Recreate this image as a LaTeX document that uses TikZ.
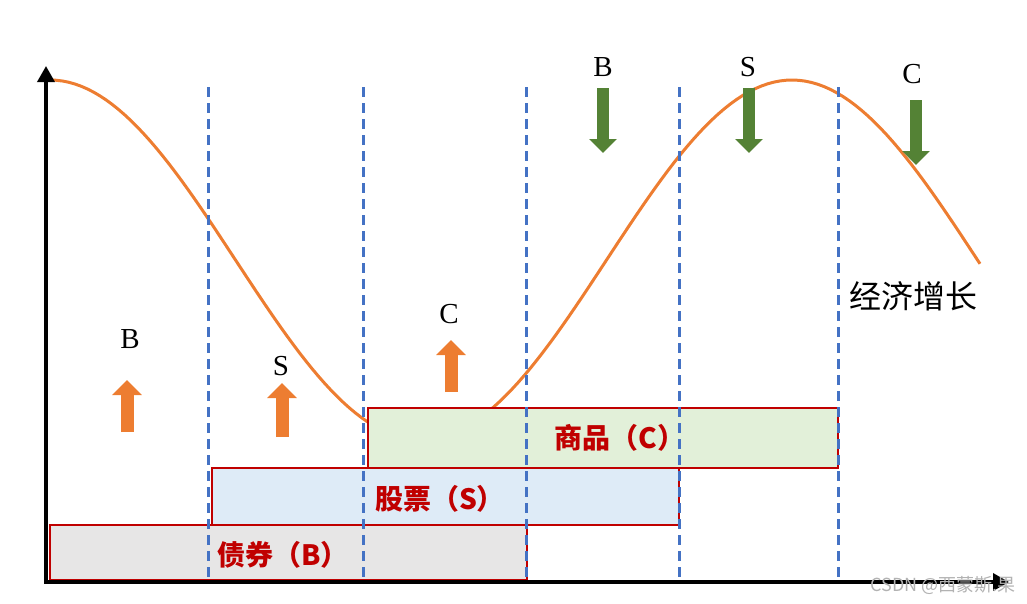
\documentclass[tikz,border=0pt]{standalone}
\usepackage{fontspec}
\setmainfont{Liberation Serif}
\newfontfamily\cjk{Noto Sans CJK SC}
\usepackage{tikz}
\usetikzlibrary{
  arrows.meta,
  positioning
}
\definecolor{CurveOrange}{RGB}{237,125,49}
\definecolor{PhaseBlue}{RGB}{68,114,196}
\definecolor{FallGreen}{RGB}{84,130,53}
\definecolor{AssetRed}{RGB}{192,0,0}
\definecolor{BondGray}{RGB}{231,230,230}
\definecolor{StockBlue}{RGB}{222,235,247}
\definecolor{GoodsGreen}{RGB}{226,240,217}
\tikzset{
  assetbox/.style={draw=AssetRed,line width=2pt,anchor=south west,inner sep=0pt},
  assetlabel/.style={text=AssetRed,font=\cjk\bfseries\fontsize{28}{28}\selectfont,inner sep=0pt},
  phaselabel/.style={font=\fontsize{29}{29}\selectfont,inner sep=0pt},
  phaseline/.style={draw=PhaseBlue,line width=3pt,dash pattern=on 10pt off 6pt},
  growthcurve/.style={draw=CurveOrange,line width=3pt,line join=round},
  axisline/.style={-{Triangle[width=17pt,length=16pt]},line width=3.5pt,draw=black},
  risearrow/.style={-{Triangle[width=29pt,length=15pt]},line width=13pt,draw=CurveOrange},
  fallarrow/.style={-{Triangle[width=27pt,length=14pt]},line width=12pt,draw=FallGreen}
}
\begin{document}
\begin{tikzpicture}[x=1pt,y=-1pt]
\useasboundingbox (0,0) rectangle (1027,603);
\draw[growthcurve] plot[domain=50:980,samples=150] (\x,{260-180*cos((\x-50)/742*360)});
\node[assetbox,fill=BondGray,minimum width=477pt,minimum height=55pt] (bond) at (49,581) {};
\node[assetbox,fill=StockBlue,minimum width=467pt,minimum height=57pt] (stock) at (211,526) {};
\node[assetbox,fill=GoodsGreen,minimum width=470pt,minimum height=60pt] (goods) at (367,469) {};
\node[assetlabel] (bondtxt) at (283,555) {债券（B）};
\node[assetlabel] (stocktxt) at (440,499) {股票（S）};
\node[assetlabel] (goodstxt) at (620,438) {商品（C）};
\foreach \x [count=\i] in {208,363,526,679,838}{
  \coordinate (t\i) at (\x,87);
  \coordinate (b\i) at (\x,582);
  \draw[phaseline] (t\i) -- (b\i);
}
\coordinate (O) at (46,582);
\coordinate (ytop) at (46,66);
\coordinate (xend) at (1009,582);
\draw[axisline] ([yshift=-1.75pt]O) -- (ytop);
\draw[axisline] ([xshift=-1.75pt]O) -- (xend);
\node[phaselabel] (lb1) at (130,339) {B};
\node[phaselabel] (ls1) at (281,366) {S};
\node[phaselabel] (lc1) at (449,314) {C};
\node[phaselabel] (lb2) at (603,67) {B};
\node[phaselabel] (ls2) at (748,67) {S};
\node[phaselabel] (lc2) at (912,74) {C};
\draw[risearrow] (127,432) -- (127,380);
\draw[risearrow] (282,437) -- (282,383);
\draw[risearrow] (451,392) -- (451,340);
\draw[fallarrow] (603,88) -- (603,153);
\draw[fallarrow] (749,88) -- (749,153);
\draw[fallarrow] (916,100) -- (916,165);
\node[font=\cjk\fontsize{32}{32}\selectfont,inner sep=0pt] (growth) at (913,296) {经济增长};
\node[font=\cjk\fontsize{18}{18}\selectfont,text=black!30,inner sep=0pt] (mark) at (943,585) {CSDN @西蒙斯.果};
\end{tikzpicture}
\end{document}
